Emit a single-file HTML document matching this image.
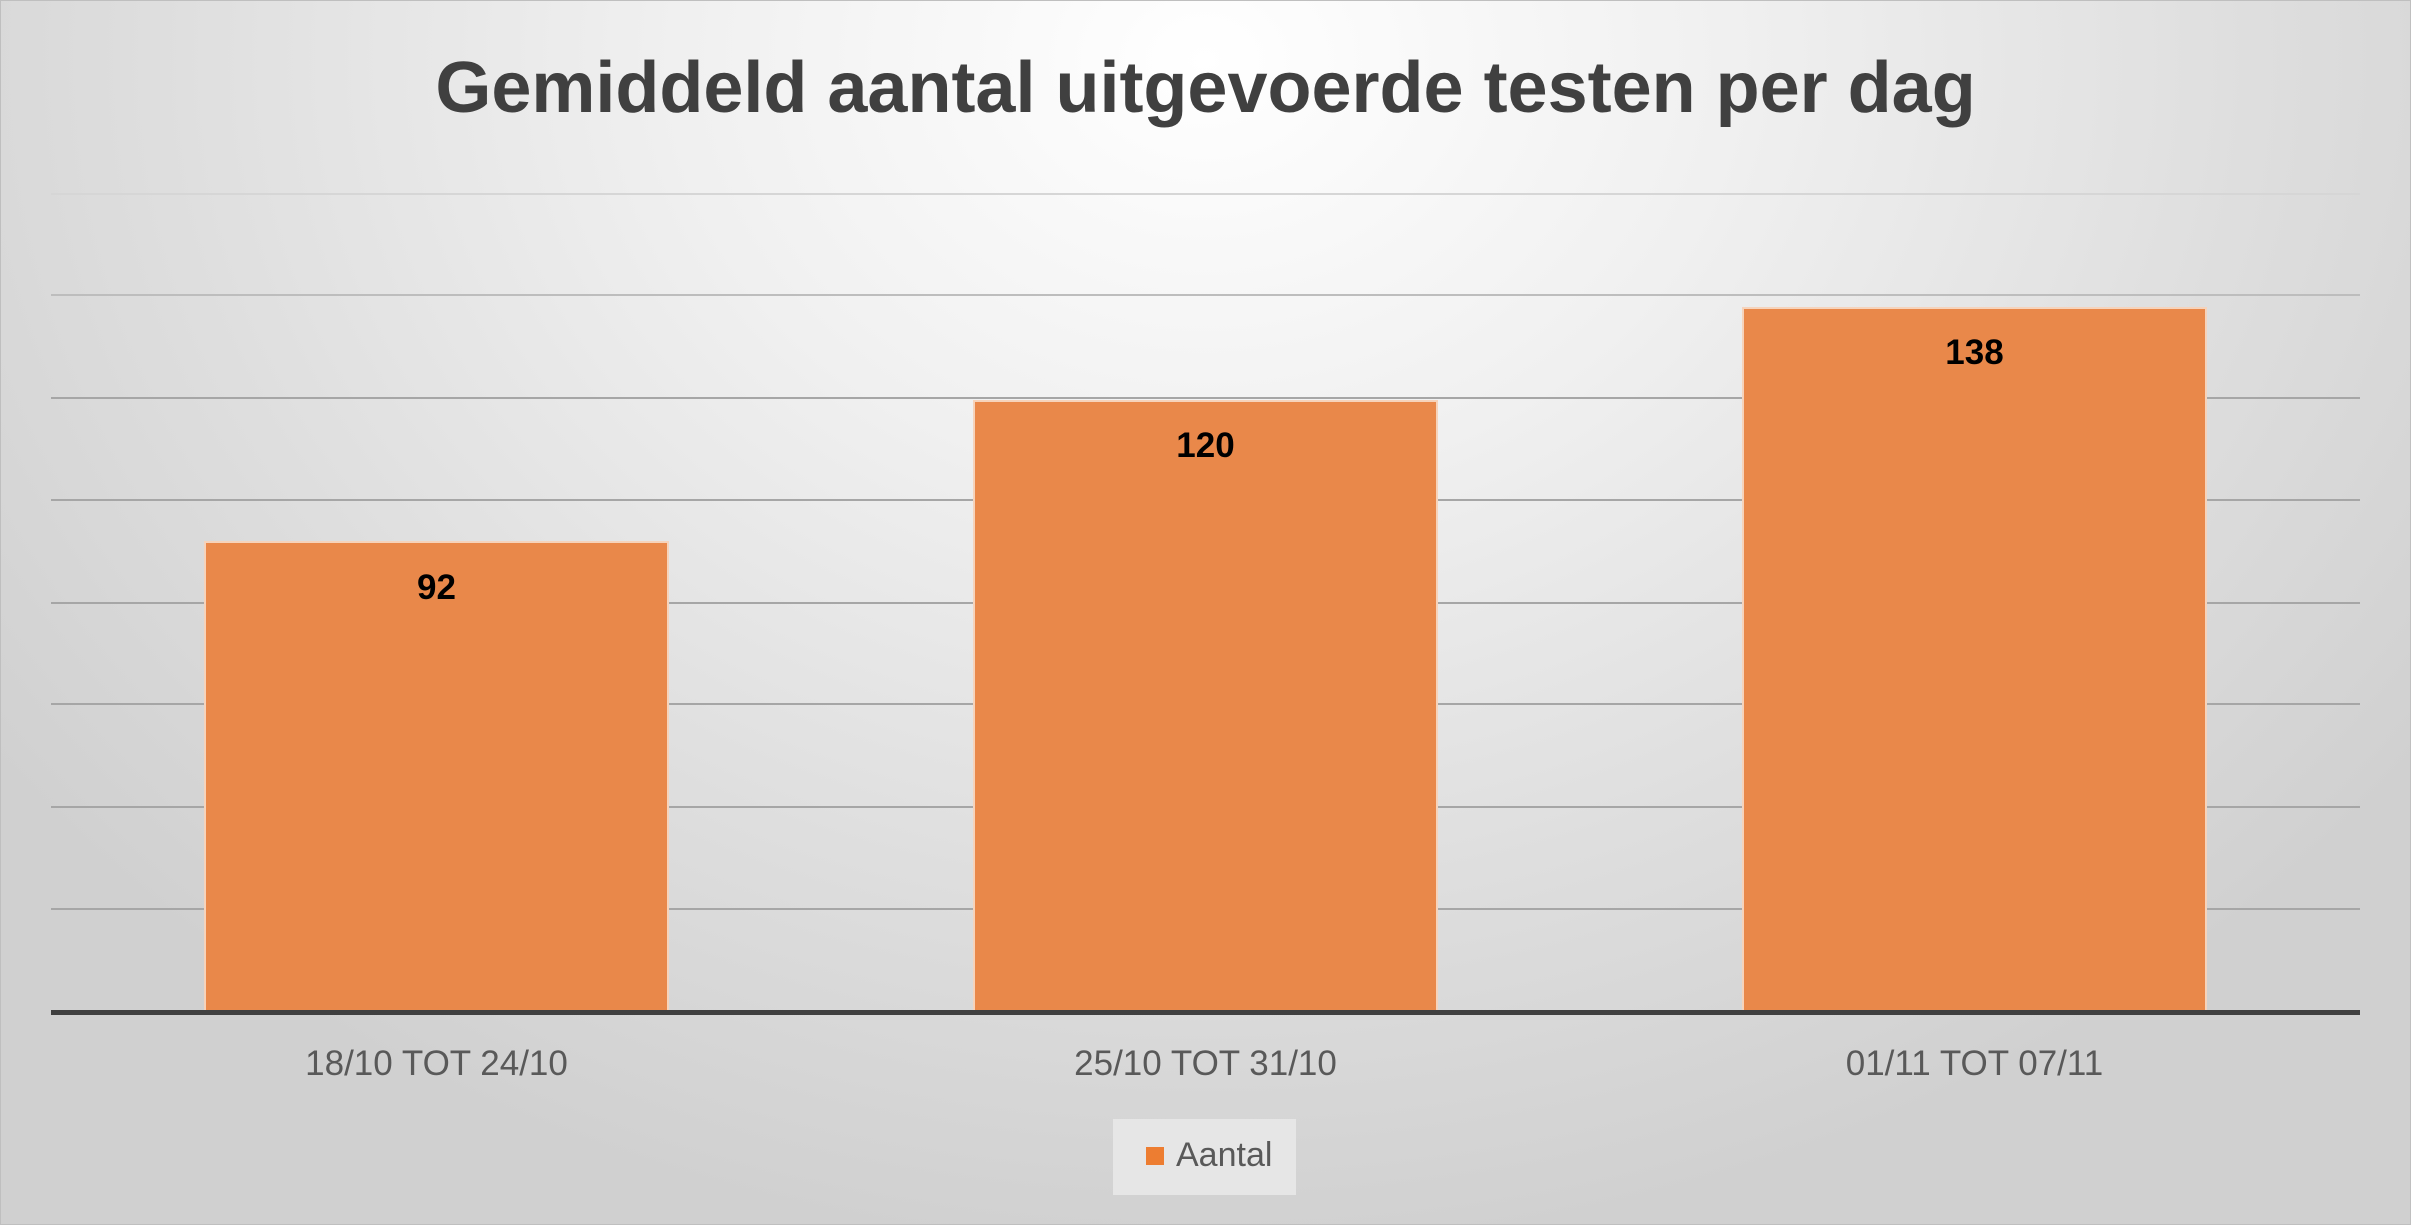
<!DOCTYPE html>
<html><head><meta charset="utf-8"><style>
html,body{margin:0;padding:0;}
body{width:2411px;height:1225px;overflow:hidden;position:relative;font-family:"Liberation Sans",sans-serif;
background:radial-gradient(ellipse 1500px 1200px at 1205px 60px,#ffffff 0%,#f0f0f0 35%,#dedede 70%,#d0d0d0 100%);}
.frame{position:absolute;left:0;top:0;width:2409px;height:1223px;border:1px solid #bfbfbf;}
.title{position:absolute;left:0;width:2411px;top:47px;text-align:center;font-size:72px;font-weight:bold;color:#404040;}
.g{position:absolute;left:51px;width:2309px;height:2px;background:#a6a6a6;}
.axis{position:absolute;left:51px;width:2309px;top:1010px;height:5px;background:#404040;}
.bar{position:absolute;background:#e9884a;border:2px solid #f6d3bb;border-bottom:none;box-sizing:border-box;}
.lbl{position:absolute;width:465px;text-align:center;font-size:35px;font-weight:bold;color:#000;}
.cat{position:absolute;width:465px;text-align:center;font-size:35px;color:#595959;top:1044px;}
.leg{position:absolute;left:1113px;top:1119px;width:183px;height:76px;background:#e6e6e6;}
</style></head><body>
<div class="frame"></div>
<div class="title">Gemiddeld aantal uitgevoerde testen per dag</div>
<div class="g" style="top:193px;background:#d6d6d6"></div>
<div class="g" style="top:294px;background:#bdbdbd"></div>
<div class="g" style="top:397px"></div>
<div class="g" style="top:499px"></div>
<div class="g" style="top:602px"></div>
<div class="g" style="top:703px"></div>
<div class="g" style="top:806px"></div>
<div class="g" style="top:908px"></div>
<div class="bar" style="left:204px;width:465px;top:541px;height:470px"></div>
<div class="bar" style="left:973px;width:465px;top:400px;height:611px"></div>
<div class="bar" style="left:1742px;width:465px;top:307px;height:704px"></div>
<div class="axis"></div>
<div class="lbl" style="left:204px;top:568px">92</div>
<div class="lbl" style="left:973px;top:426px">120</div>
<div class="lbl" style="left:1742px;top:333px">138</div>
<div class="cat" style="left:204px">18/10 TOT 24/10</div>
<div class="cat" style="left:973px">25/10 TOT 31/10</div>
<div class="cat" style="left:1742px">01/11 TOT 07/11</div>
<div class="leg"></div>
<div style="position:absolute;left:1146px;top:1147px;width:18px;height:18px;background:#ed7d31"></div>
<div style="position:absolute;left:1176px;top:1136px;font-size:34px;color:#595959">Aantal</div>
</body></html>
